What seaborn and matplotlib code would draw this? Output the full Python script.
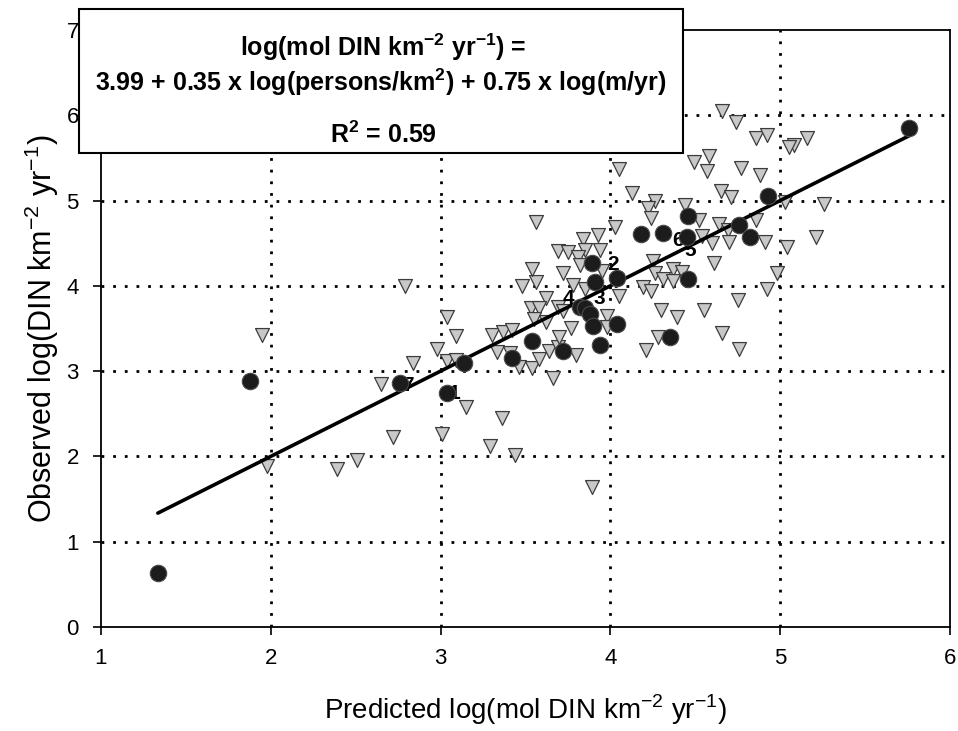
import seaborn as sns
import matplotlib.pyplot as plt
import matplotlib.patches as mpatches
import numpy as np
import pandas as pd

sns.set_style("white")
plt.rcParams['font.family'] = ['Liberation Sans', 'DejaVu Sans']
plt.rcParams['mathtext.fontset'] = 'custom'
plt.rcParams['mathtext.rm'] = 'Liberation Sans'
plt.rcParams['mathtext.bf'] = 'Liberation Sans:bold'
plt.rcParams['text.color'] = 'black'
plt.rcParams['axes.labelcolor'] = 'black'
plt.rcParams['xtick.color'] = 'black'
plt.rcParams['ytick.color'] = 'black'

# numbered / reference sites (black circles)
circ_x = [1.335, 1.88, 2.76, 3.04, 3.14, 3.42, 3.54, 3.72, 3.82, 3.85, 3.88, 3.90, 3.94, 4.04,
          3.91, 3.89, 4.04, 4.18, 4.31, 4.46, 4.45, 4.46, 4.35, 4.76, 4.82, 4.93, 5.76]
circ_y = [0.63, 2.88, 2.86, 2.74, 3.09, 3.15, 3.35, 3.24, 3.75, 3.74, 3.67, 3.53, 3.31, 3.55,
          4.04, 4.27, 4.09, 4.61, 4.62, 4.82, 4.57, 4.08, 3.40, 4.71, 4.57, 5.05, 5.85]

# other rivers (grey triangles)
tri_x = [2.79, 1.95, 3.04, 3.09, 2.98, 2.84, 3.04, 3.09, 3.30, 3.37, 3.42, 3.33, 3.41, 3.46,
         3.54, 3.58, 3.64, 3.69, 3.70, 3.80, 3.66, 2.65, 3.15, 3.36, 2.72, 3.01, 3.29, 3.44,
         1.98, 2.39, 2.51, 3.89, 3.48, 3.56, 3.78, 3.85, 4.05, 3.62, 3.53, 3.58, 3.55, 3.62,
         3.69, 3.77, 3.98, 3.98, 3.56, 3.84, 3.93, 3.69, 3.75, 3.85, 3.94, 3.81, 3.82, 3.54,
         3.72, 3.95, 4.03, 4.05, 4.13, 4.26, 4.22, 4.24, 4.44, 4.52, 4.64, 4.69, 4.86, 4.54,
         4.60, 4.70, 4.91, 5.04, 5.21, 4.66, 4.74, 4.86, 4.92, 5.08, 5.05, 5.16, 4.58, 4.49,
         4.57, 4.77, 4.88, 4.65, 4.71, 5.03, 5.26, 4.25, 4.26, 4.31, 4.37, 4.42, 4.37, 4.61,
         4.98, 4.19, 4.24, 4.92, 4.75, 4.30, 4.39, 4.55, 4.66, 4.28, 4.21, 4.76, 3.72]
tri_y = [4.00, 3.42, 3.63, 3.41, 3.26, 3.09, 3.12, 3.13, 3.42, 3.46, 3.48, 3.22, 3.21, 3.05,
         3.04, 3.14, 3.24, 3.28, 3.40, 3.19, 2.92, 2.85, 2.58, 2.45, 2.23, 2.26, 2.12, 2.02,
         1.89, 1.85, 1.96, 1.64, 4.00, 4.04, 4.01, 3.96, 3.88, 3.86, 3.74, 3.74, 3.61, 3.58,
         3.75, 3.51, 3.65, 3.52, 4.75, 4.55, 4.60, 4.41, 4.40, 4.42, 4.42, 4.34, 4.24, 4.20,
         4.15, 4.17, 4.69, 5.37, 5.09, 5.00, 4.91, 4.79, 4.95, 4.77, 4.72, 4.65, 4.77, 4.58,
         4.50, 4.51, 4.51, 4.45, 4.57, 6.05, 5.92, 5.73, 5.77, 5.65, 5.63, 5.73, 5.52, 5.45,
         5.35, 5.38, 5.30, 5.11, 5.04, 4.98, 4.96, 4.29, 4.15, 4.08, 4.20, 4.16, 4.06, 4.27,
         4.15, 3.99, 3.94, 3.96, 3.83, 3.72, 3.63, 3.72, 3.45, 3.40, 3.25, 3.26, 3.70]

# site numbers: which circle they belong to, and pixel offset of the text
site_labels = ['1', '2', '3', '4', '5', '6', '7']
site_index = [3, 16, 10, 8, 20, 20, 2]
site_offset = [(7, 0), (-4, 14), (9, 15), (-11, 9), (3, -13), (-9, -3), (8, -2)]

circ = pd.DataFrame({'pred': circ_x, 'obs': circ_y})
tri = pd.DataFrame({'pred': tri_x, 'obs': tri_y})

fig = plt.figure(figsize=(9.58, 7.31), dpi=100)
ax = fig.add_axes([0.1054, 0.1423, 0.8862, 0.8167])

# dotted grid
for gx in [2, 3, 4, 5]:
    ax.axvline(gx, color='black', linestyle=(0, (1, 3.2)), linewidth=2, zorder=0)
for gy in [1, 2, 3, 4, 5, 6]:
    ax.axhline(gy, color='black', linestyle=(0, (1, 3.2)), linewidth=2, zorder=0)

sns.scatterplot(data=tri, x='pred', y='obs', marker='v', s=100, color='#c8c8c8',
                edgecolor='#3c3c3c', linewidth=0.9, ax=ax, zorder=2)

# 1:1 line across the range of the circles
line_x = [min(circ_x), max(circ_x)]
sns.lineplot(x=line_x, y=line_x, color='black', linewidth=2.6, ax=ax, zorder=3)

for lab, i, off in zip(site_labels, site_index, site_offset):
    ax.annotate(lab, xy=(circ_x[i], circ_y[i]), xytext=off, textcoords='offset pixels',
                ha='center', va='center', fontsize=15, fontweight='bold', color='black',
                zorder=3.5)

sns.scatterplot(data=circ, x='pred', y='obs', marker='o', s=140, color='#1c1c1c',
                edgecolor='#4a4a4a', linewidth=0.8, ax=ax, zorder=4)

ax.set_xlim(1, 6)
ax.set_ylim(0, 7)
ax.set_xticks([1, 2, 3, 4, 5, 6])
ax.set_yticks([0, 1, 2, 3, 4, 5, 6, 7])
ax.tick_params(direction='out', length=6, width=1.2, labelsize=16, color='black',
               labelcolor='black', left=True, bottom=True)
ax.tick_params(axis='x', pad=9)
ax.tick_params(axis='y', pad=10)
for sp in ax.spines.values():
    sp.set_color('black')
    sp.set_linewidth(1.3)

ax.set_xlabel(r'Predicted log(mol DIN km$^{-2}$ yr$^{-1}$)', fontsize=20, labelpad=17)
ax.set_ylabel(r'Observed log(DIN km$^{-2}$ yr$^{-1}$)', fontsize=22, labelpad=4)

# equation box
box = mpatches.Rectangle((0.0825, 0.7907), 0.6305, 0.197, transform=fig.transFigure,
                         facecolor='white', edgecolor='black', linewidth=1.5, zorder=5)
fig.patches.append(box)
fig.text(0.40, 0.935, r'log(mol DIN km$^{\mathbf{-2}}$ yr$^{\mathbf{-1}}$) =', ha='center',
         va='center', fontsize=18, fontweight='bold', zorder=6)
fig.text(0.397, 0.888, r'3.99 + 0.35 x log(persons/km$^{\mathbf{2}}$) + 0.75 x log(m/yr)',
         ha='center', va='center', fontsize=18, fontweight='bold', zorder=6)
fig.text(0.40, 0.815, r'R$^{\mathbf{2}}$ = 0.59', ha='center', va='center',
         fontsize=18, fontweight='bold', zorder=6)

fig.savefig('out.png', dpi=100)
